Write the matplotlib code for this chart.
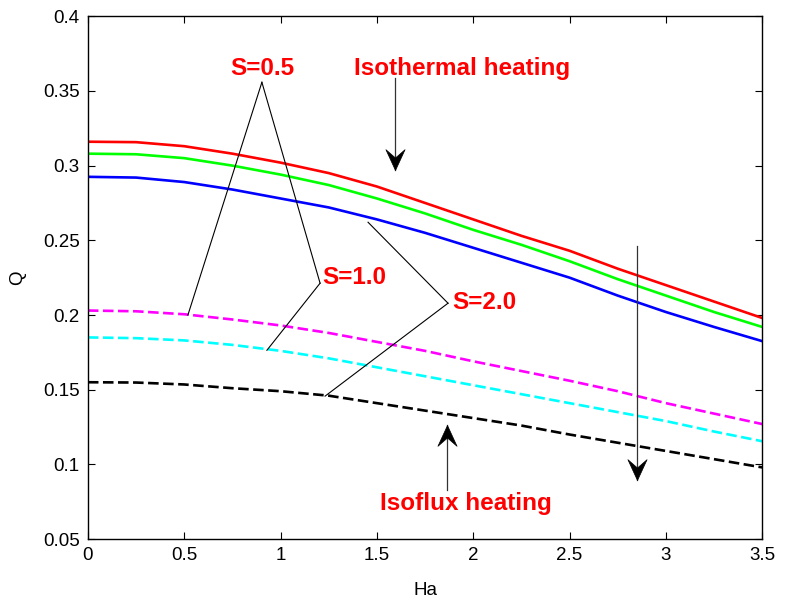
import matplotlib
matplotlib.use('Agg')
import matplotlib.pyplot as plt
from matplotlib.path import Path
import numpy as np

plt.rcParams['font.family'] = ['Liberation Sans', 'DejaVu Sans']

# Ha grid and Q values
ha = [0, 0.25, 0.5, 0.75, 1.0, 1.25, 1.5, 1.75, 2.0, 2.25, 2.5, 2.75, 3.0, 3.25, 3.5]

# isothermal heating (solid)
q_iso_s05 = [0.316, 0.3157, 0.313, 0.308, 0.302, 0.295, 0.286, 0.275, 0.264, 0.253, 0.243, 0.231, 0.220, 0.209, 0.198]
q_iso_s10 = [0.308, 0.3076, 0.305, 0.300, 0.294, 0.287, 0.278, 0.268, 0.257, 0.247, 0.236, 0.224, 0.213, 0.202, 0.192]
q_iso_s20 = [0.2925, 0.292, 0.289, 0.284, 0.278, 0.272, 0.264, 0.255, 0.245, 0.235, 0.225, 0.213, 0.202, 0.192, 0.1825]

# isoflux heating (dashed)
q_flux_s05 = [0.203, 0.2025, 0.2005, 0.197, 0.193, 0.188, 0.182, 0.176, 0.169, 0.1625, 0.156, 0.149, 0.141, 0.134, 0.127]
q_flux_s10 = [0.185, 0.1845, 0.183, 0.180, 0.176, 0.171, 0.165, 0.159, 0.153, 0.147, 0.141, 0.135, 0.129, 0.122, 0.1155]
q_flux_s20 = [0.155, 0.1548, 0.1535, 0.151, 0.149, 0.146, 0.141, 0.136, 0.131, 0.126, 0.120, 0.1145, 0.109, 0.1035, 0.098]

xticks = [0, 0.5, 1, 1.5, 2, 2.5, 3, 3.5]
xticklabels = ['0', '0.5', '1', '1.5', '2', '2.5', '3', '3.5']
yticks = [0.05, 0.1, 0.15, 0.2, 0.25, 0.3, 0.35, 0.4]
yticklabels = ['0.05', '0.1', '0.15', '0.2', '0.25', '0.3', '0.35', '0.4']

fig = plt.figure(figsize=(7.85, 6.01), dpi=100)
ax = fig.add_axes([0.112, 0.103, 0.859, 0.870])

lw = 1.9
ax.plot(ha, q_iso_s05, color='#ff0000', lw=lw)
ax.plot(ha, q_iso_s10, color='#00ff00', lw=lw)
ax.plot(ha, q_iso_s20, color='#0000ff', lw=lw)
dash = (4, 1.7)
ax.plot(ha, q_flux_s05, color='#ff00ff', lw=lw, dashes=dash)
ax.plot(ha, q_flux_s10, color='#00ffff', lw=lw, dashes=dash)
ax.plot(ha, q_flux_s20, color='#000000', lw=lw, dashes=dash)

ax.set_xlim(0, 3.5)
ax.set_ylim(0.05, 0.4)
ax.set_xticks(xticks)
ax.set_xticklabels(xticklabels)
ax.set_yticks(yticks)
ax.set_yticklabels(yticklabels)
ax.tick_params(direction='in', length=5, width=0.8, labelsize=13.5,
               top=True, right=True, pad=6)
for s in ax.spines.values():
    s.set_linewidth(1.0)

ax.set_xlabel('Ha', fontsize=13.5, labelpad=13)
ax.set_ylabel('Q', fontsize=13.5, labelpad=12)

# labels and leader lines
red = '#ff0000'
tkw = dict(color=red, fontsize=17.5, fontweight='bold')
ax.text(0.903, 0.365, 'S=0.5', ha='center', va='center', **tkw)
ax.text(1.215, 0.2253, 'S=1.0', ha='left', va='center', **tkw)
ax.text(1.89, 0.2086, 'S=2.0', ha='left', va='center', **tkw)
ax.text(1.942, 0.365, 'Isothermal heating', ha='center', va='center', **tkw)
ax.text(1.963, 0.074, 'Isoflux heating', ha='center', va='center', **tkw)

lkw = dict(color='k', lw=0.8)
ax.plot([0.903, 0.519], [0.3558, 0.2], **lkw)
ax.plot([0.903, 1.205], [0.3558, 0.2213], **lkw)
ax.plot([1.205, 0.929], [0.2213, 0.1764], **lkw)
ax.plot([1.869, 1.454], [0.2079, 0.2621], **lkw)
ax.plot([1.869, 1.231], [0.2079, 0.1457], **lkw)

# arrows with MATLAB-like concave heads, tip at the marker origin
head_down = Path([(0, 0), (-0.46, 1), (0, 0.6), (0.46, 1), (0, 0)],
                 [Path.MOVETO, Path.LINETO, Path.LINETO, Path.LINETO, Path.CLOSEPOLY])
head_up = Path([(0, 0), (-0.46, -1), (0, -0.6), (0.46, -1), (0, 0)],
               [Path.MOVETO, Path.LINETO, Path.LINETO, Path.LINETO, Path.CLOSEPOLY])


def arrow(x, y0, y1):
    ax.plot([x, x], [y0, y1], color='#333333', lw=0.9)
    head = head_down if y1 < y0 else head_up
    ax.plot([x], [y1], marker=head, ms=30, color='k', mec='k', mew=0.5,
            linestyle='none')


arrow(1.594, 0.3585, 0.297)
arrow(1.864, 0.0827, 0.1262)
arrow(2.85, 0.246, 0.0894)

fig.savefig('out.png', dpi=100)
